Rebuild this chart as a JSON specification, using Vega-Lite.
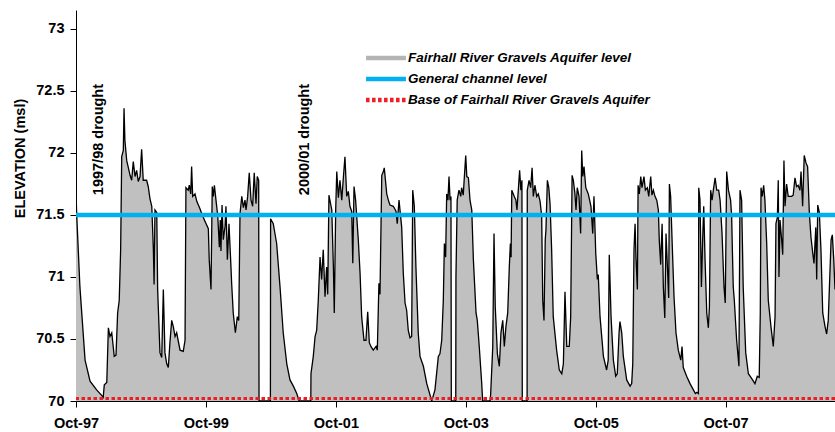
{
  "$schema": "https://vega.github.io/schema/vega-lite/v6.json",
  "width": 759,
  "height": 391,
  "autosize": {"type": "none"},
  "padding": {"left": 76, "top": 10, "right": 0, "bottom": 31},
  "background": "white",
  "config": {
    "view": {"stroke": null},
    "font": "Liberation Sans",
    "axis": {
      "labelFont": "Liberation Sans",
      "titleFont": "Liberation Sans",
      "labelColor": "black",
      "titleColor": "black",
      "domainColor": "black",
      "tickColor": "black",
      "domainWidth": 1,
      "tickWidth": 1,
      "grid": false
    },
    "legend": {
      "title": null,
      "orient": "none",
      "direction": "vertical",
      "legendX": 298,
      "legendY": 36,
      "padding": 0,
      "rowPadding": -1,
      "symbolSize": 361,
      "symbolType": "M-2.1,0H2.1",
      "symbolStrokeWidth": 4.5,
      "labelOffset": 10,
      "labelFont": "Liberation Sans",
      "labelFontSize": 13.5,
      "labelFontWeight": "bold",
      "labelFontStyle": "italic",
      "labelColor": "black",
      "labelLimit": 400
    }
  },
  "datasets": {
    "aquifer": [
      {"date":"1997-10-01","level":71.68},{"date":"1997-10-05","level":71.50},{"date":"1997-10-23","level":70.92},{"date":"1997-11-21","level":70.33},{"date":"1997-12-19","level":70.16},
      {"date":"1998-01-25","level":70.09},{"date":"1998-02-26","level":70.04},{"date":"1998-03-03","level":70.03},{"date":"1998-03-09","level":70.13},{"date":"1998-03-23","level":70.15},
      {"date":"1998-04-01","level":70.59},{"date":"1998-04-10","level":70.52},{"date":"1998-04-20","level":70.55},{"date":"1998-05-04","level":70.36},{"date":"1998-05-14","level":70.37},
      {"date":"1998-05-23","level":70.71},{"date":"1998-06-01","level":70.81},{"date":"1998-06-09","level":71.22},{"date":"1998-06-15","level":71.97},{"date":"1998-06-24","level":72.02},
      {"date":"1998-06-28","level":72.36},{"date":"1998-07-03","level":72.10},{"date":"1998-07-13","level":71.94},{"date":"1998-08-01","level":71.82},{"date":"1998-08-10","level":71.78},
      {"date":"1998-08-19","level":71.93},{"date":"1998-08-29","level":71.81},{"date":"1998-09-07","level":71.86},{"date":"1998-09-16","level":71.77},{"date":"1998-09-26","level":71.81},
      {"date":"1998-10-05","level":72.03},{"date":"1998-10-14","level":71.78},{"date":"1998-11-02","level":71.78},{"date":"1998-11-11","level":71.73},{"date":"1998-11-21","level":71.63},
      {"date":"1998-12-01","level":71.57},{"date":"1998-12-10","level":71.22},{"date":"1998-12-14","level":70.94},{"date":"1998-12-19","level":71.54},{"date":"1998-12-29","level":71.52},
      {"date":"1999-01-03","level":70.90},{"date":"1999-01-16","level":70.39},{"date":"1999-01-26","level":70.35},{"date":"1999-02-04","level":70.90},{"date":"1999-02-13","level":70.39},
      {"date":"1999-02-23","level":70.30},{"date":"1999-03-04","level":70.27},{"date":"1999-03-13","level":70.47},{"date":"1999-03-23","level":70.65},{"date":"1999-04-01","level":70.60},
      {"date":"1999-04-11","level":70.52},{"date":"1999-04-20","level":70.55},{"date":"1999-05-09","level":70.41},{"date":"1999-05-27","level":70.40},{"date":"1999-06-06","level":70.49},
      {"date":"1999-06-11","level":71.72},{"date":"1999-06-24","level":71.70},{"date":"1999-06-30","level":71.74},{"date":"1999-07-08","level":71.67},{"date":"1999-07-13","level":71.89},
      {"date":"1999-07-19","level":71.65},{"date":"1999-08-01","level":71.67},{"date":"1999-08-11","level":71.61},{"date":"1999-08-29","level":71.55},{"date":"1999-09-08","level":71.51},
      {"date":"1999-09-26","level":71.45},{"date":"1999-10-15","level":71.39},{"date":"1999-10-20","level":71.14},{"date":"1999-10-30","level":70.90},{"date":"1999-11-06","level":71.73},
      {"date":"1999-11-12","level":71.65},{"date":"1999-11-18","level":71.74},{"date":"1999-11-27","level":71.62},{"date":"1999-12-07","level":71.49},{"date":"1999-12-16","level":71.24},
      {"date":"1999-12-21","level":71.46},{"date":"1999-12-25","level":71.21},{"date":"1999-12-31","level":71.58},{"date":"2000-01-07","level":71.30},{"date":"2000-01-17","level":71.41},
      {"date":"2000-01-22","level":71.57},{"date":"2000-01-30","level":71.14},{"date":"2000-02-08","level":71.43},{"date":"2000-02-18","level":71.12},{"date":"2000-02-23","level":70.95},
      {"date":"2000-03-03","level":70.71},{"date":"2000-03-15","level":70.55},{"date":"2000-03-26","level":70.68},{"date":"2000-04-03","level":70.65},{"date":"2000-04-10","level":71.51},
      {"date":"2000-04-20","level":71.65},{"date":"2000-04-29","level":71.56},{"date":"2000-05-08","level":71.62},{"date":"2000-05-14","level":71.54},{"date":"2000-05-23","level":71.65},
      {"date":"2000-06-01","level":71.84},{"date":"2000-06-11","level":71.62},{"date":"2000-06-20","level":71.57},{"date":"2000-06-29","level":71.84},{"date":"2000-07-09","level":71.59},
      {"date":"2000-07-16","level":71.81},{"date":"2000-07-24","level":71.78},{"date":"2000-07-26","level":70.00},{"date":"2000-09-28","level":70.00},{"date":"2000-09-29","level":71.47},
      {"date":"2000-10-14","level":71.43},{"date":"2000-11-02","level":71.27},{"date":"2000-11-21","level":70.92},{"date":"2000-12-09","level":70.55},{"date":"2000-12-29","level":70.30},
      {"date":"2001-01-16","level":70.17},{"date":"2001-02-04","level":70.12},{"date":"2001-02-23","level":70.06},{"date":"2001-03-04","level":70.02},{"date":"2001-03-08","level":70.00},
      {"date":"2001-05-13","level":70.00},{"date":"2001-05-14","level":70.22},{"date":"2001-05-27","level":70.36},{"date":"2001-06-06","level":70.52},{"date":"2001-06-15","level":70.57},
      {"date":"2001-06-24","level":70.81},{"date":"2001-07-04","level":71.16},{"date":"2001-07-13","level":70.98},{"date":"2001-07-22","level":71.22},{"date":"2001-08-01","level":70.84},
      {"date":"2001-08-10","level":71.08},{"date":"2001-08-16","level":70.86},{"date":"2001-08-23","level":71.66},{"date":"2001-09-08","level":71.54},{"date":"2001-09-17","level":71.08},
      {"date":"2001-09-22","level":70.71},{"date":"2001-09-30","level":71.54},{"date":"2001-10-06","level":71.85},{"date":"2001-10-15","level":71.64},{"date":"2001-10-24","level":71.78},
      {"date":"2001-11-03","level":71.62},{"date":"2001-11-12","level":71.80},{"date":"2001-11-21","level":71.97},{"date":"2001-12-01","level":71.65},{"date":"2001-12-10","level":71.69},
      {"date":"2001-12-19","level":71.57},{"date":"2001-12-29","level":71.53},{"date":"2002-01-04","level":71.11},{"date":"2002-01-11","level":71.73},{"date":"2002-01-20","level":71.62},
      {"date":"2002-02-04","level":71.30},{"date":"2002-02-14","level":71.03},{"date":"2002-02-23","level":70.68},{"date":"2002-03-08","level":70.49},{"date":"2002-03-19","level":70.49},
      {"date":"2002-03-29","level":70.72},{"date":"2002-04-07","level":70.47},{"date":"2002-04-16","level":70.44},{"date":"2002-04-29","level":70.41},{"date":"2002-05-15","level":70.44},
      {"date":"2002-05-22","level":70.41},{"date":"2002-05-31","level":70.95},{"date":"2002-06-06","level":70.86},{"date":"2002-06-16","level":71.82},{"date":"2002-06-25","level":71.85},
      {"date":"2002-06-30","level":71.88},{"date":"2002-07-14","level":71.67},{"date":"2002-07-23","level":71.62},{"date":"2002-08-01","level":71.58},{"date":"2002-08-20","level":71.57},
      {"date":"2002-09-04","level":71.53},{"date":"2002-09-11","level":71.43},{"date":"2002-09-21","level":71.62},{"date":"2002-10-06","level":71.40},{"date":"2002-10-15","level":71.03},
      {"date":"2002-10-25","level":70.79},{"date":"2002-11-03","level":70.73},{"date":"2002-11-12","level":70.57},{"date":"2002-11-22","level":70.51},{"date":"2002-12-01","level":70.52},
      {"date":"2002-12-07","level":71.70},{"date":"2002-12-16","level":71.57},{"date":"2002-12-25","level":71.08},{"date":"2003-01-07","level":70.55},{"date":"2003-01-17","level":70.36},
      {"date":"2003-02-05","level":70.28},{"date":"2003-02-24","level":70.14},{"date":"2003-03-24","level":70.00},{"date":"2003-04-11","level":70.09},{"date":"2003-04-30","level":70.36},
      {"date":"2003-05-09","level":70.38},{"date":"2003-05-19","level":70.49},{"date":"2003-05-28","level":70.81},{"date":"2003-06-03","level":71.27},{"date":"2003-06-10","level":71.16},
      {"date":"2003-06-16","level":71.67},{"date":"2003-06-23","level":71.62},{"date":"2003-06-29","level":71.81},{"date":"2003-07-05","level":71.62},{"date":"2003-07-10","level":71.65},
      {"date":"2003-07-12","level":70.00},{"date":"2003-08-06","level":70.00},{"date":"2003-08-07","level":71.00},{"date":"2003-08-14","level":71.62},{"date":"2003-08-24","level":71.70},
      {"date":"2003-09-03","level":71.65},{"date":"2003-09-08","level":71.72},{"date":"2003-09-17","level":71.66},{"date":"2003-09-23","level":71.80},{"date":"2003-10-01","level":71.98},
      {"date":"2003-10-07","level":71.81},{"date":"2003-10-16","level":71.80},{"date":"2003-10-25","level":71.62},{"date":"2003-11-04","level":71.54},{"date":"2003-11-13","level":71.14},
      {"date":"2003-11-28","level":70.71},{"date":"2003-12-05","level":70.65},{"date":"2003-12-16","level":70.44},{"date":"2003-12-30","level":70.14},{"date":"2004-01-04","level":70.00},
      {"date":"2004-02-15","level":70.00},{"date":"2004-02-18","level":70.05},{"date":"2004-03-01","level":70.44},{"date":"2004-03-08","level":71.35},{"date":"2004-03-15","level":70.76},
      {"date":"2004-03-27","level":70.38},{"date":"2004-04-07","level":70.28},{"date":"2004-04-16","level":70.55},{"date":"2004-04-26","level":70.65},{"date":"2004-05-05","level":70.44},
      {"date":"2004-05-14","level":70.60},{"date":"2004-05-24","level":70.71},{"date":"2004-06-02","level":71.08},{"date":"2004-06-08","level":71.27},{"date":"2004-06-12","level":71.16},
      {"date":"2004-06-16","level":71.70},{"date":"2004-06-30","level":71.65},{"date":"2004-07-09","level":71.62},{"date":"2004-07-15","level":71.54},{"date":"2004-07-22","level":71.69},
      {"date":"2004-07-30","level":71.86},{"date":"2004-08-06","level":71.70},{"date":"2004-08-12","level":71.78},{"date":"2004-08-14","level":70.00},{"date":"2004-09-10","level":70.00},
      {"date":"2004-09-11","level":71.70},{"date":"2004-09-21","level":71.78},{"date":"2004-09-30","level":71.72},{"date":"2004-10-08","level":71.88},{"date":"2004-10-15","level":71.65},
      {"date":"2004-10-24","level":71.74},{"date":"2004-11-03","level":71.65},{"date":"2004-11-12","level":71.67},{"date":"2004-11-22","level":71.61},{"date":"2004-12-01","level":71.49},
      {"date":"2004-12-07","level":70.81},{"date":"2004-12-14","level":70.65},{"date":"2004-12-21","level":71.30},{"date":"2004-12-25","level":71.38},{"date":"2005-01-02","level":71.78},
      {"date":"2005-01-10","level":71.72},{"date":"2005-01-17","level":71.59},{"date":"2005-01-26","level":71.22},{"date":"2005-02-04","level":70.68},{"date":"2005-02-23","level":70.41},
      {"date":"2005-03-10","level":70.25},{"date":"2005-03-24","level":70.22},{"date":"2005-04-02","level":70.30},{"date":"2005-04-11","level":70.88},{"date":"2005-04-21","level":70.44},
      {"date":"2005-05-05","level":70.44},{"date":"2005-05-13","level":70.68},{"date":"2005-05-21","level":71.82},{"date":"2005-05-28","level":71.78},{"date":"2005-06-06","level":71.67},
      {"date":"2005-06-12","level":71.54},{"date":"2005-06-19","level":71.72},{"date":"2005-06-29","level":71.65},{"date":"2005-07-08","level":71.35},{"date":"2005-07-14","level":72.02},
      {"date":"2005-07-20","level":71.81},{"date":"2005-07-27","level":71.89},{"date":"2005-08-06","level":71.72},{"date":"2005-08-20","level":71.67},{"date":"2005-09-04","level":71.57},
      {"date":"2005-09-14","level":71.35},{"date":"2005-09-21","level":71.65},{"date":"2005-10-01","level":71.19},{"date":"2005-10-10","level":70.98},{"date":"2005-10-15","level":71.02},
      {"date":"2005-10-25","level":70.68},{"date":"2005-11-13","level":70.36},{"date":"2005-12-01","level":70.25},{"date":"2005-12-10","level":70.33},{"date":"2005-12-16","level":71.18},
      {"date":"2005-12-26","level":70.68},{"date":"2006-01-08","level":70.33},{"date":"2006-01-21","level":70.20},{"date":"2006-01-30","level":70.22},{"date":"2006-02-09","level":70.55},
      {"date":"2006-02-14","level":70.64},{"date":"2006-02-24","level":70.55},{"date":"2006-03-05","level":70.36},{"date":"2006-03-24","level":70.17},{"date":"2006-04-12","level":70.12},
      {"date":"2006-04-21","level":70.14},{"date":"2006-04-27","level":70.30},{"date":"2006-05-04","level":71.22},{"date":"2006-05-10","level":71.43},{"date":"2006-05-15","level":71.16},
      {"date":"2006-05-23","level":70.90},{"date":"2006-05-27","level":71.74},{"date":"2006-06-03","level":71.67},{"date":"2006-06-11","level":71.81},{"date":"2006-06-18","level":71.72},
      {"date":"2006-06-29","level":71.81},{"date":"2006-07-07","level":71.70},{"date":"2006-07-18","level":71.72},{"date":"2006-07-26","level":71.65},{"date":"2006-08-06","level":71.81},
      {"date":"2006-08-13","level":71.66},{"date":"2006-08-21","level":71.70},{"date":"2006-08-30","level":71.65},{"date":"2006-09-09","level":71.62},{"date":"2006-09-18","level":71.54},
      {"date":"2006-09-23","level":71.30},{"date":"2006-10-01","level":71.10},{"date":"2006-10-09","level":71.43},{"date":"2006-10-16","level":70.92},{"date":"2006-10-24","level":70.67},
      {"date":"2006-10-31","level":71.35},{"date":"2006-11-07","level":71.11},{"date":"2006-11-15","level":70.83},{"date":"2006-11-19","level":71.75},{"date":"2006-11-26","level":71.65},
      {"date":"2006-12-04","level":71.30},{"date":"2006-12-15","level":70.84},{"date":"2006-12-26","level":70.55},{"date":"2007-01-08","level":70.41},{"date":"2007-01-22","level":70.33},
      {"date":"2007-01-29","level":70.44},{"date":"2007-02-05","level":70.27},{"date":"2007-02-24","level":70.20},{"date":"2007-03-15","level":70.14},{"date":"2007-04-03","level":70.09},
      {"date":"2007-04-14","level":70.06},{"date":"2007-04-23","level":70.07},{"date":"2007-05-01","level":70.06},{"date":"2007-05-03","level":71.72},{"date":"2007-05-10","level":71.62},
      {"date":"2007-05-18","level":70.92},{"date":"2007-05-25","level":71.30},{"date":"2007-05-31","level":71.57},{"date":"2007-06-07","level":71.16},{"date":"2007-06-17","level":70.71},
      {"date":"2007-06-26","level":70.59},{"date":"2007-07-02","level":70.76},{"date":"2007-07-09","level":71.70},{"date":"2007-07-17","level":71.62},{"date":"2007-07-24","level":71.70},
      {"date":"2007-08-03","level":71.80},{"date":"2007-08-12","level":71.70},{"date":"2007-08-23","level":71.70},{"date":"2007-08-31","level":71.62},{"date":"2007-09-11","level":71.35},
      {"date":"2007-09-22","level":70.92},{"date":"2007-09-29","level":70.79},{"date":"2007-10-07","level":71.85},{"date":"2007-10-17","level":71.70},{"date":"2007-10-29","level":71.62},
      {"date":"2007-11-04","level":71.49},{"date":"2007-11-08","level":71.22},{"date":"2007-11-13","level":70.92},{"date":"2007-11-19","level":70.81},{"date":"2007-12-02","level":70.49},
      {"date":"2007-12-15","level":70.28},{"date":"2007-12-21","level":71.70},{"date":"2007-12-30","level":71.62},{"date":"2008-01-08","level":70.92},{"date":"2008-01-22","level":70.39},
      {"date":"2008-02-06","level":70.22},{"date":"2008-02-25","level":70.18},{"date":"2008-03-14","level":70.14},{"date":"2008-03-27","level":70.20},{"date":"2008-04-07","level":70.19},
      {"date":"2008-04-13","level":70.71},{"date":"2008-04-17","level":71.72},{"date":"2008-04-24","level":71.65},{"date":"2008-05-02","level":71.74},{"date":"2008-05-09","level":71.62},
      {"date":"2008-05-19","level":71.27},{"date":"2008-05-28","level":70.81},{"date":"2008-06-12","level":70.60},{"date":"2008-06-25","level":70.44},{"date":"2008-07-05","level":70.68},
      {"date":"2008-07-10","level":71.43},{"date":"2008-07-18","level":71.48},{"date":"2008-07-23","level":71.78},{"date":"2008-07-27","level":71.00},{"date":"2008-08-02","level":71.46},
      {"date":"2008-08-11","level":71.30},{"date":"2008-08-17","level":71.18},{"date":"2008-08-24","level":71.94},{"date":"2008-08-30","level":71.57},{"date":"2008-09-08","level":71.75},
      {"date":"2008-09-17","level":71.65},{"date":"2008-10-06","level":71.65},{"date":"2008-10-15","level":71.66},{"date":"2008-10-25","level":71.80},{"date":"2008-11-03","level":71.73},
      {"date":"2008-11-12","level":71.74},{"date":"2008-11-22","level":71.70},{"date":"2008-11-28","level":71.85},{"date":"2008-12-07","level":71.57},{"date":"2008-12-16","level":71.98},
      {"date":"2008-12-26","level":71.92},{"date":"2009-01-04","level":71.89},{"date":"2009-01-14","level":71.51},{"date":"2009-01-23","level":71.32},{"date":"2009-02-02","level":71.19},
      {"date":"2009-02-09","level":71.11},{"date":"2009-02-19","level":71.40},{"date":"2009-02-24","level":70.98},{"date":"2009-03-02","level":71.58},{"date":"2009-03-11","level":71.52},
      {"date":"2009-03-20","level":71.22},{"date":"2009-03-30","level":70.71},{"date":"2009-04-12","level":70.60},{"date":"2009-04-21","level":70.54},{"date":"2009-04-30","level":70.65},
      {"date":"2009-05-16","level":71.30},{"date":"2009-05-23","level":71.34},{"date":"2009-05-31","level":71.14},{"date":"2009-06-07","level":70.90}
    ],
    "channel": [{"series": "General channel level", "level": 71.5}],
    "base": [{"series": "Base of Fairhall River Gravels Aquifer", "level": 70.02}],
    "notes": [
      {"date": "1998-02-07", "level": 71.66, "label": "1997/98 drought"},
      {"date": "2001-04-10", "level": 71.66, "label": "2000/01 drought"}
    ]
  },
  "layer": [
    {
      "data": {"name": "aquifer"},
      "mark": {"type": "area", "opacity": 1, "fill": "#c0c0c0", "clip": true, "interpolate": "linear"},
      "encoding": {
        "x": {
          "field": "date", "type": "temporal",
          "scale": {"domain": [{"year": 1997, "month": 10, "date": 1}, {"year": 2009, "month": 6, "date": 7}]},
          "axis": {
            "title": null,
            "values": [
              {"year": 1997, "month": 10, "date": 1},
              {"year": 1999, "month": 10, "date": 1},
              {"year": 2001, "month": 10, "date": 1},
              {"year": 2003, "month": 10, "date": 1},
              {"year": 2005, "month": 10, "date": 1},
              {"year": 2007, "month": 10, "date": 1}
            ],
            "format": "%b-%y",
            "labelFontSize": 14.5,
            "labelFontWeight": "bold",
            "labelAngle": 0,
            "tickSize": 6,
            "labelPadding": 9,
            "labelFlush": false,
            "labelOverlap": false
          }
        },
        "y": {
          "field": "level", "type": "quantitative", "stack": null,
          "scale": {"domain": [70, 73.153], "zero": false, "nice": false},
          "axis": {
            "title": "ELEVATION (msl)",
            "values": [70, 70.5, 71, 71.5, 72, 72.5, 73],
            "format": "~g",
            "labelFontSize": 14.5,
            "labelFontWeight": "bold",
            "titleFontSize": 14.5,
            "titleFontWeight": "bold",
            "titleX": -49,
            "titleY": 148,
            "tickSize": 6,
            "labelPadding": 6
          }
        }
      }
    },
    {
      "data": {"name": "aquifer"},
      "mark": {"type": "line", "color": "#000000", "strokeWidth": 1.3, "clip": true, "interpolate": "linear"},
      "encoding": {
        "x": {"field": "date", "type": "temporal"},
        "y": {"field": "level", "type": "quantitative"}
      }
    },
    {
      "data": {"name": "channel"},
      "mark": {"type": "rule", "strokeWidth": 4.5, "opacity": 1},
      "encoding": {
        "y": {"field": "level", "type": "quantitative"},
        "color": {
          "field": "series", "type": "nominal",
          "scale": {
            "domain": ["Fairhall River Gravels Aquifer level", "General channel level", "Base of Fairhall River Gravels Aquifer"],
            "range": ["#b4b4b4", "#00b0f0", "#ee1c24"]
          },
          "legend": {"symbolType": "M-2.1,0H2.1", "symbolStrokeWidth": 4.5, "symbolSize": 361, "rowPadding": -1}
        },
        "strokeDash": {
          "field": "series", "type": "nominal",
          "scale": {
            "domain": ["Fairhall River Gravels Aquifer level", "General channel level", "Base of Fairhall River Gravels Aquifer"],
            "range": [[1, 0], [1, 0], [3.5, 2.5]]
          },
          "legend": {"symbolType": "M-2.1,0H2.1", "symbolStrokeWidth": 4.5, "symbolSize": 361, "rowPadding": -1}
        }
      }
    },
    {
      "data": {"name": "base"},
      "mark": {"type": "rule", "strokeWidth": 3, "opacity": 1},
      "encoding": {
        "y": {"field": "level", "type": "quantitative"},
        "color": {
          "field": "series", "type": "nominal",
          "legend": {"symbolType": "M-2.1,0H2.1", "symbolStrokeWidth": 4.5, "symbolSize": 361, "rowPadding": -1}
        },
        "strokeDash": {
          "field": "series", "type": "nominal",
          "legend": {"symbolType": "M-2.1,0H2.1", "symbolStrokeWidth": 4.5, "symbolSize": 361, "rowPadding": -1}
        }
      }
    },
    {
      "data": {"name": "notes"},
      "mark": {"type": "text", "angle": 270, "align": "left", "baseline": "middle", "font": "Liberation Sans", "fontSize": 14.5, "fontWeight": "bold", "color": "#000000"},
      "encoding": {
        "x": {"field": "date", "type": "temporal"},
        "y": {"field": "level", "type": "quantitative"},
        "text": {"field": "label"}
      }
    }
  ]
}
